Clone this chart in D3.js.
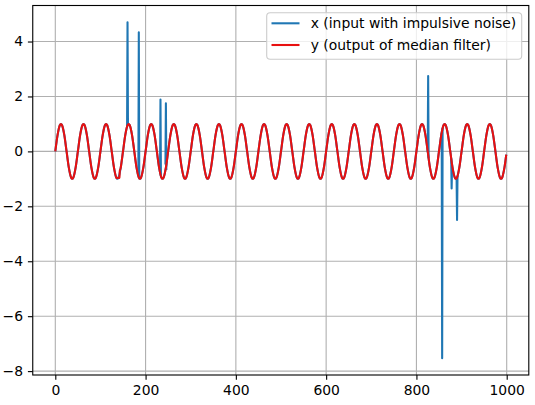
<!DOCTYPE html>
<html>
<head>
<meta charset="utf-8">
<script src="https://cdn.jsdelivr.net/npm/d3@7"></script>
<style>
  html, body { margin: 0; padding: 0; background: #fff; overflow: hidden; }
  text { font-family: 'DejaVu Sans', sans-serif; }
</style>
</head>
<body>
<script>
'use strict';

// sample index of every base value (one every 5 samples, plus the last sample)
const sampleIdx = d3.range(0, 1000, 5).concat([999]);

// x without its impulses: one sine period every 50 samples
const baseVals = [
  0, 0.59, 0.95, 0.95, 0.59, 0, -0.59, -0.95, -0.95, -0.59,
  0, 0.59, 0.95, 0.95, 0.59, 0, -0.59, -0.95, -0.95, -0.59,
  0, 0.59, 0.95, 0.95, 0.59, 0, -0.59, -0.95, -0.95, -0.59,
  0, 0.59, 0.95, 0.95, 0.59, 0, -0.59, -0.95, -0.95, -0.59,
  0, 0.59, 0.95, 0.95, 0.59, 0, -0.59, -0.95, -0.95, -0.59,
  0, 0.59, 0.95, 0.95, 0.59, 0, -0.59, -0.95, -0.95, -0.59,
  0, 0.59, 0.95, 0.95, 0.59, 0, -0.59, -0.95, -0.95, -0.59,
  0, 0.59, 0.95, 0.95, 0.59, 0, -0.59, -0.95, -0.95, -0.59,
  0, 0.59, 0.95, 0.95, 0.59, 0, -0.59, -0.95, -0.95, -0.59,
  0, 0.59, 0.95, 0.95, 0.59, 0, -0.59, -0.95, -0.95, -0.59,
  0, 0.59, 0.95, 0.95, 0.59, 0, -0.59, -0.95, -0.95, -0.59,
  0, 0.59, 0.95, 0.95, 0.59, 0, -0.59, -0.95, -0.95, -0.59,
  0, 0.59, 0.95, 0.95, 0.59, 0, -0.59, -0.95, -0.95, -0.59,
  0, 0.59, 0.95, 0.95, 0.59, 0, -0.59, -0.95, -0.95, -0.59,
  0, 0.59, 0.95, 0.95, 0.59, 0, -0.59, -0.95, -0.95, -0.59,
  0, 0.59, 0.95, 0.95, 0.59, 0, -0.59, -0.95, -0.95, -0.59,
  0, 0.59, 0.95, 0.95, 0.59, 0, -0.59, -0.95, -0.95, -0.59,
  0, 0.59, 0.95, 0.95, 0.59, 0, -0.59, -0.95, -0.95, -0.59,
  0, 0.59, 0.95, 0.95, 0.59, 0, -0.59, -0.95, -0.95, -0.59,
  0, 0.59, 0.95, 0.95, 0.59, 0, -0.59, -0.95, -0.95, -0.59,
  -0.12
];

// impulses in x: sample index, value, and the neighbours on either side
const spikeIdx   = [160, 185, 233, 245, 826, 857, 878, 890];
const spikeVal   = [4.70, 4.34, 1.89, 1.75, 2.74, -7.53, -1.35, -2.50];
const spikeLeft  = [0.90, -0.90, -0.77, -0.48, 0.0, 0.68, -0.25, -0.98];
const spikeRight = [0.98, -0.98, -0.90, -0.68, -0.25, 0.85, -0.48, -0.90];

// the median filter output follows the sine, except a small step near 143
const kinkIdx = [140, 142, 143, 145];
const kinkVal = [-0.95, -0.95, -0.70, -0.59];

const xTicks = [0, 200, 400, 600, 800, 1000];
const yTicks = [-8, -6, -4, -2, 0, 2, 4];
const labels = ['x (input with impulsive noise)', 'y (output of median filter)'];

const W = 535, H = 405;
const plot = { left: 32.75, right: 528.8, top: 5.5, bottom: 375 };
const blue = '#1f77b4', red = '#e81010';
const fontPx = 13.9, lw = 2.08, thin = 1.11, tickLen = 4.86;

const basePts = sampleIdx.map((i, k) => [i, baseVals[k]]);
const spikePts = spikeIdx.map((i, k) => [
  [i - 1, spikeLeft[k]], [i, spikeVal[k]], [i + 1, spikeRight[k]]
]);
const yPts = basePts
    .filter(p => p[0] < kinkIdx[0] || p[0] > kinkIdx[kinkIdx.length - 1])
    .concat(kinkIdx.map((i, k) => [i, kinkVal[k]]))
    .sort((a, b) => a[0] - b[0]);

// matplotlib style 5% margins
const xmin = 0, xmax = 999;
const allY = baseVals.concat(spikeVal);
const ymin = d3.min(allY), ymax = d3.max(allY);
const xpad = (xmax - xmin) * 0.05, ypad = (ymax - ymin) * 0.05;

const x = d3.scaleLinear().domain([xmin - xpad, xmax + xpad]).range([plot.left, plot.right]);
const y = d3.scaleLinear().domain([ymin - ypad, ymax + ypad]).range([plot.bottom, plot.top]);

const svg = d3.select('body').append('svg').attr('width', W).attr('height', H);
svg.append('rect').attr('width', W).attr('height', H).attr('fill', '#fff');

const fmt = v => (v < 0 ? '\u2212' : '') + Math.abs(v);

// grid
const gridg = svg.append('g').attr('stroke', '#b0b0b0').attr('stroke-width', thin);
gridg.selectAll('line.gx').data(xTicks).enter().append('line')
    .attr('x1', d => x(d)).attr('x2', d => x(d))
    .attr('y1', plot.top).attr('y2', plot.bottom);
gridg.selectAll('line.gy').data(yTicks).enter().append('line')
    .attr('y1', d => y(d)).attr('y2', d => y(d))
    .attr('x1', plot.left).attr('x2', plot.right);

// clip so the lines stay inside the axes
svg.append('clipPath').attr('id', 'clip').append('rect')
    .attr('x', plot.left).attr('y', plot.top)
    .attr('width', plot.right - plot.left).attr('height', plot.bottom - plot.top);

const smooth = d3.line().x(d => x(d[0])).y(d => y(d[1])).curve(d3.curveCatmullRom.alpha(0));
const straight = d3.line().x(d => x(d[0])).y(d => y(d[1]));

const linesg = svg.append('g').attr('clip-path', 'url(#clip)')
    .attr('fill', 'none').attr('stroke-width', lw)
    .attr('stroke-linejoin', 'round').attr('stroke-linecap', 'butt');

// x (input): base path plus its single-sample impulses
linesg.append('path').attr('stroke', blue).attr('d', smooth(basePts));
linesg.selectAll('path.spike').data(spikePts).enter().append('path')
    .classed('spike', true)
    .attr('stroke', blue)
    .attr('d', d => straight(d));

// y (median filter output)
linesg.append('path').attr('stroke', red).attr('d', smooth(yPts));

// spines
svg.append('rect')
    .attr('x', plot.left).attr('y', plot.top)
    .attr('width', plot.right - plot.left).attr('height', plot.bottom - plot.top)
    .attr('fill', 'none').attr('stroke', '#000').attr('stroke-width', thin);

// axes
const xAxis = svg.append('g').attr('transform', `translate(0,${plot.bottom})`)
    .call(d3.axisBottom(x).tickValues(xTicks).tickSize(tickLen).tickPadding(tickLen).tickFormat(fmt));
const yAxis = svg.append('g').attr('transform', `translate(${plot.left},0)`)
    .call(d3.axisLeft(y).tickValues(yTicks).tickSize(tickLen).tickPadding(tickLen).tickFormat(fmt));
[xAxis, yAxis].forEach(a => {
  a.select('.domain').remove();
  a.selectAll('line').attr('stroke', '#000').attr('stroke-width', thin);
  a.selectAll('text').attr('fill', '#000')
      .style('font-family', "'DejaVu Sans', sans-serif").style('font-size', fontPx + 'px');
});

// legend
const leg = svg.append('g');
leg.append('rect')
    .attr('x', 266.7).attr('y', 12.8).attr('width', 255).attr('height', 46.5)
    .attr('rx', 3.5)
    .attr('fill', '#fff').attr('fill-opacity', 0.8)
    .attr('stroke', '#cccccc').attr('stroke-width', thin);
const legItems = leg.selectAll('g.item').data(labels).enter().append('g')
    .attr('transform', (d, i) => `translate(271.5,${23.3 + i * 21.7})`);
legItems.append('line')
    .attr('x1', 0).attr('x2', 28)
    .attr('stroke', (d, i) => i === 0 ? blue : red).attr('stroke-width', lw);
legItems.append('text')
    .attr('x', 39.2).attr('dy', '0.36em')
    .style('font-size', fontPx + 'px').attr('fill', '#000')
    .text(d => d);
</script>
</body>
</html>
